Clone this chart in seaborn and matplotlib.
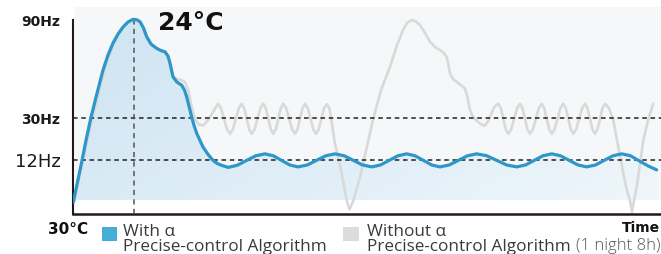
import numpy as np
import pandas as pd
import matplotlib
matplotlib.use("Agg")
import matplotlib.pyplot as plt
import seaborn as sns
from matplotlib.colors import to_rgb
from matplotlib.patches import Rectangle

# ---------------- data (time units along x, level units along y) ----------------
with_t = [0.3, 4, 8.7, 13, 17.7, 23, 30, 35, 40, 45, 50, 55, 60, 64, 67, 70.5, 73.7, 78,
          83.7, 88, 92, 95, 97, 100, 104, 108.7, 111.5, 113.7, 116, 118.7, 121, 123.7,
          130, 135, 140, 144, 148.7, 155.3,
          164.5, 173.7, 182.8, 192, 200.3, 208.5, 216.8, 225, 234.3, 243.5, 252.8, 262,
          271.2, 280.4, 289.5, 298.7, 307.5, 316.2, 325, 333.7, 342, 350.4, 358.7, 367,
          376.2, 385.4, 394.5, 403.7, 413.7, 423.7, 433.7, 443.7, 452.5, 461.2, 470, 478.7,
          487.5, 496.2, 505, 513.7, 522.5, 531.2, 540, 548.7, 557.5, 566.2, 575, 583.7]
with_level = [11.3, 29, 51.3, 73, 94.7, 116, 143, 158, 170, 179, 186, 191, 193.7, 193.2,
              191.3, 185, 176.3, 169, 164.7, 162.5, 161.3, 157, 150, 136.3, 131, 128, 123,
              116.3, 107, 96.3, 88, 80, 66.3, 59, 53, 50, 48, 46,
              48.2, 53, 57.6, 59.5, 57.6, 53, 48.4, 46.5, 48.4, 53, 57.6, 59.5,
              57.6, 53, 48.4, 46.5, 48.4, 53, 57.6, 59.5, 57.6, 53, 48.4, 46.5,
              48.4, 53, 57.6, 59.5, 57.6, 53, 48.4, 46.5, 48.4, 53, 57.6, 59.5,
              57.6, 53, 48.4, 46.5, 48.4, 53, 57.6, 59.5, 57.6, 52.5, 47.5, 43.5]

without_t = [1, 5, 10, 14.5, 19.5, 25, 31.5, 36.5, 41.5, 46, 51, 55.5, 60, 64, 67, 70.5,
             73.7, 78, 83.7, 88, 92, 95, 97, 100, 104, 108.7, 112, 115.3, 118.7, 122, 126,
             130.3, 135, 140, 145,
             148, 151, 154, 157, 159.9, 162.9, 165.8, 168.7, 171.2, 173.7, 176.2, 178.7,
             181.6, 184.5, 187.4, 190.3, 192.8, 195.3, 197.8, 200.3, 202.8, 205.3, 207.8,
             210.3, 213.2, 216.2, 219.1, 222, 224.5, 227, 229.5, 232, 234.8, 237.5, 240.3,
             243, 245.7, 248.4, 251, 253.7,
             256.5, 262, 265.5, 268.7, 273.7, 276.5, 280, 287, 293.5, 300.3, 308, 317, 324,
             330, 334, 338.7, 343, 347, 352, 357, 362, 367, 371, 373.7, 375.5, 377, 380,
             383.7, 388, 392, 394.5, 397, 400, 403.7, 408, 412, 415, 418.7, 421, 425.3,
             427.8, 430.3, 432.8, 435.3, 438.2, 441.2, 444.1, 447, 449.5, 452, 454.5, 457,
             459.9, 462.9, 465.8, 468.7, 471.2, 473.7, 476.2, 478.7, 481.6, 484.5, 487.4,
             490.3, 492.8, 495.3, 497.8, 500.3, 503.2, 506.2, 509.1, 512, 514.5, 517, 519.5,
             522, 524.5, 527, 529.5, 532,
             536, 540.3, 545, 550.3, 554, 557, 559, 561, 563.7, 567, 570.3, 575, 580.3]
without_level = [11, 30, 53, 73, 95, 117, 143, 158, 170, 179, 186, 191, 193.5, 193, 191,
                 185, 176, 169, 164.5, 162.5, 161, 157, 150, 137, 134, 133, 131, 123, 106.3,
                 94, 88.5, 88, 93, 101.3, 109.5,
                 105.1, 94.5, 83.9, 79.5, 83.9, 94.5, 105.1, 109.5, 105.1, 94.5, 83.9, 79.5,
                 83.9, 94.5, 105.1, 109.5, 105.1, 94.5, 83.9, 79.5, 83.9, 94.5, 105.1,
                 109.5, 105.1, 94.5, 83.9, 79.5, 83.9, 94.5, 105.1, 109.5, 105.1, 94.5, 83.9,
                 79.5, 83.9, 94.5, 105.1, 109,
                 105, 69.7, 55, 39.7, 13, 4, 12, 36.3, 65, 94.7, 123, 146.3, 168,
                 183, 190, 193, 191.5, 188, 180, 171.3, 166, 163, 160, 156, 148, 139.7, 134,
                 131.3, 128, 124.7, 116, 103, 96.5, 92.5, 89, 87.5, 92, 100, 106, 109.5,
                 105.1, 94.5, 83.9, 79.5, 83.9, 94.5, 105.1, 109.5, 105.1, 94.5, 83.9, 79.5,
                 83.9, 94.5, 105.1, 109.5, 105.1, 94.5, 83.9, 79.5, 83.9, 94.5, 105.1,
                 109.5, 105.1, 94.5, 83.9, 79.5, 83.9, 94.5, 105.1, 109.5, 105.1, 94.5, 83.9,
                 79.5, 83.9, 94.5, 105.1, 109.5,
                 105, 93, 68, 39.7, 23, 13, 1.5, 13, 26.3, 50, 73, 93, 109.7]

tick_levels = [53, 95, 193]
tick_labels = ["12Hz", "30Hz", "90Hz"]
peak_time = 61
base_level = 13
x_max, y_max = 588, 206

# ---------------- style ----------------
sns.set_theme(style="white")
plt.rcParams["font.family"] = ["Open Sans", "DejaVu Sans"]
WIDE = ["DejaVu Sans"]

W, H = 661, 254
fig = plt.figure(figsize=(W / 100, H / 100), dpi=100)
fig.patch.set_facecolor("white")
ax = fig.add_axes([73 / W, (H - 213.5) / H, (W - 73) / W, (213.5 - 7) / H])
ax.set_facecolor("white")


def fx(px):
    return px / W


def fy(py):
    return 1 - py / H


# light panel behind the curves
ax.add_patch(Rectangle((2 / x_max, base_level / y_max), 1 - 2 / x_max, 1 - base_level / y_max,
                       transform=ax.transAxes, facecolor="#f5f7f8", edgecolor="none", zorder=0.5))

# gradient fill under the "with" curve
poly = ax.fill_between(with_t, with_level, base_level, facecolor="none", edgecolor="none")
ny, nx = 200, 300
yy, xx = np.mgrid[0:1:ny * 1j, 0:1:nx * 1j]
v = np.clip(0.35 * (1 - yy) + 0.65 * xx, 0, 1)
c_top = np.array(to_rgb("#cde4f2"))
c_bot = np.array(to_rgb("#eff6fb"))
img = c_top + (c_bot - c_top) * v[..., None]
im = ax.imshow(img, extent=[0, x_max, base_level, y_max], origin="lower", aspect="auto", zorder=1)
im.set_clip_path(poly.get_paths()[0], transform=ax.transData)

df_with = pd.DataFrame({"t": with_t, "level": with_level})
df_without = pd.DataFrame({"t": without_t, "level": without_level})

sns.lineplot(data=df_without, x="t", y="level", ax=ax, color="#d9d9d9", linewidth=1.9,
             estimator=None, sort=False, zorder=2)

# reference lines
for lv in tick_levels[:2]:
    ax.axhline(lv, color="#222222", linewidth=1.1, linestyle=(0, (3.0, 2.4)), zorder=3)
ax.plot([peak_time, peak_time], [0, tick_levels[2]], color="#555555", linewidth=1.1,
        linestyle=(0, (3.4, 2.8)), zorder=3)

sns.lineplot(data=df_with, x="t", y="level", ax=ax, color="#2e97c9", linewidth=2.3,
             estimator=None, sort=False, zorder=4)

ax.set_xlim(0, x_max)
ax.set_ylim(0, y_max)
ax.set_xlabel("")
ax.set_ylabel("")
ax.set_xticks([])
ax.set_yticks(tick_levels)
ax.set_yticklabels(tick_labels)
ax.tick_params(axis="y", length=0, pad=9)
for lab in ax.get_yticklabels():
    lab.set_family(WIDE)
    if lab.get_text() == "12Hz":
        lab.set_fontsize(13)
        lab.set_fontweight("normal")
    else:
        lab.set_fontsize(10)
        lab.set_fontweight("bold")
    lab.set_color("#1a1a1a")

for s in ["top", "right"]:
    ax.spines[s].set_visible(False)
ax.spines["left"].set_bounds(0, tick_levels[2])
ax.spines["left"].set_color("#231815")
ax.spines["left"].set_linewidth(1.5)
ax.spines["bottom"].set_color("#231815")
ax.spines["bottom"].set_linewidth(1.8)

# annotations
fig.text(fx(158), fy(23), "24°C", fontsize=18, fontweight="bold", color="#111111",
         ha="left", va="center", family=WIDE)
fig.text(fx(88), fy(229), "30°C", fontsize=11, fontweight="bold", color="#111111",
         ha="right", va="center", family=WIDE)
fig.text(fx(660), fy(228), "Time", fontsize=10, fontweight="bold", color="#111111",
         ha="right", va="center", family=WIDE)

# legend
fig.patches.append(Rectangle((fx(101.5), fy(241)), 15 / W, 14.5 / H, transform=fig.transFigure,
                             facecolor="#46aed4", edgecolor="none"))
fig.patches.append(Rectangle((fx(343), fy(241)), 16 / W, 14.5 / H, transform=fig.transFigure,
                             facecolor="#dcdcdc", edgecolor="none"))
legend_color = "#3a3a3a"
fs = 12.3
fig.text(fx(123), fy(232), "With α", fontsize=fs, color=legend_color, ha="left", va="center")
fig.text(fx(123), fy(247), "Precise-control Algorithm", fontsize=fs, color=legend_color,
         ha="left", va="center")
fig.text(fx(367), fy(232), "Without α", fontsize=fs, color=legend_color, ha="left", va="center")
fig.text(fx(367), fy(247), "Precise-control Algorithm", fontsize=fs, color=legend_color,
         ha="left", va="center")
fig.text(fx(660), fy(246), "(1 night 8h)", fontsize=12, color="#555555", ha="right",
         va="center", fontweight="light")

fig.savefig("out.png", dpi=100, facecolor="white")
